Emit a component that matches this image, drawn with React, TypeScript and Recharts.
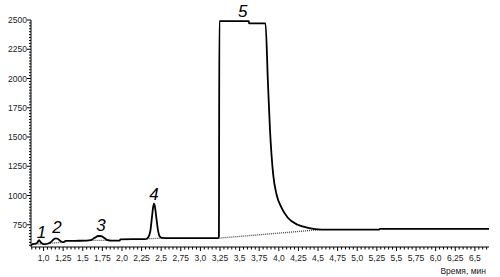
import { Line, LineChart, ReferenceDot, XAxis, YAxis } from "recharts";

// chromatogram trace: [time (min), signal]
const trace: [number, number][] = [
  [0.84, 572], [0.86, 584], [0.9, 588], [0.92, 598], [0.943, 618], [0.965, 600],
  [0.99, 586], [1.02, 584], [1.06, 590], [1.1, 606], [1.13, 626], [1.155, 634],
  [1.18, 630], [1.21, 614], [1.24, 602], [1.265, 604], [1.28, 612], [1.4, 613],
  [1.55, 614], [1.6, 618], [1.65, 638], [1.7, 654], [1.74, 652], [1.78, 634],
  [1.82, 618], [1.86, 614], [1.97, 614], [1.98, 626], [2.3, 628], [2.33, 638],
  [2.36, 690], [2.38, 800], [2.395, 890], [2.408, 931], [2.42, 905], [2.44, 800],
  [2.46, 700], [2.48, 652], [2.51, 638], [2.6, 636], [3.23, 636], [3.236, 650],
  [3.242, 2490], [3.618, 2490], [3.62, 2472], [3.83, 2472], [3.86, 1985],
  [3.888, 1554], [3.928, 1181], [3.971, 1009], [4.034, 897], [4.115, 810],
  [4.242, 750], [4.37, 724], [4.544, 709], [5.28, 709], [5.29, 715], [6.68, 715],
];

// dotted baselines under the peaks
const baselines: [number, number][][] = [
  [[0.9, 586], [0.99, 586]],
  [[1.06, 590], [1.24, 600]],
  [[1.6, 616], [1.84, 616]],
  [[2.315, 630], [2.51, 636]],
  [[3.242, 636], [4.544, 709]],
];

// peak numbers and where they sit
const peakLabels = ["1", "2", "3", "4", "5"];
const peakLabelTimes = [0.975, 1.172, 1.732, 2.408, 3.541];
const peakLabelValues = [692, 735, 752, 1017, 2573];

const xMajorTicks = [
  1.0, 1.25, 1.5, 1.75, 2.0, 2.25, 2.5, 2.75, 3.0, 3.25, 3.5, 3.75, 4.0, 4.25,
  4.5, 4.75, 5.0, 5.25, 5.5, 5.75, 6.0, 6.25, 6.5,
];
const yMajorTicks = [750, 1000, 1250, 1500, 1750, 2000, 2250, 2500];

const xTicks: number[] = [];
for (let i = 0; i <= 116; i++) xTicks.push((85 + 5 * i) / 100);
const yTicks: number[] = [];
for (let v = 575; v <= 2500; v += 25) yTicks.push(v);

const toRows = (pts: [number, number][]) => pts.map(([t, v]) => ({ t, v }));

const FONT = "'Liberation Sans', Arial, sans-serif";

const fmtTime = (v: number) => {
  const s = v.toFixed(2);
  return (s.endsWith("0") ? v.toFixed(1) : s).replace(".", ",");
};

const XTick = ({ x, y, payload }: any) => {
  const v = payload.value;
  const major = xMajorTicks.some((m) => Math.abs(m - v) < 1e-6);
  return (
    <g>
      <line x1={x} x2={x} y1={y} y2={y + (major ? 4 : 2.5)} stroke="#000" strokeWidth={1} />
      {major && (
        <text x={x} y={y + 14} textAnchor="middle" fontSize={8.5} fontFamily={FONT} fill="#222">
          {fmtTime(v)}
        </text>
      )}
    </g>
  );
};

const YTick = ({ x, y, payload }: any) => {
  const v = payload.value;
  const major = yMajorTicks.includes(v);
  return (
    <g>
      <line x1={x - (major ? 4 : 2)} x2={x} y1={y} y2={y} stroke="#000" strokeWidth={1} />
      {major && (
        <text x={x - 4} y={y + 3} textAnchor="end" fontSize={8.5} fontFamily={FONT} fill="#222">
          {v}
        </text>
      )}
    </g>
  );
};

export default function App() {
  return (
    <div style={{ position: "absolute", left: 0, top: 0, background: "#fff" }}>
      <LineChart
        width={500}
        height={277}
        data={toRows(trace)}
        margin={{ top: 20, right: 11, bottom: 0, left: 0 }}
      >
        <XAxis
          dataKey="t"
          type="number"
          domain={[0.84, 6.68]}
          ticks={xTicks}
          interval={0}
          tick={<XTick />}
          tickLine={false}
          tickSize={0}
          tickMargin={0}
          height={30}
          allowDataOverflow
          axisLine={{ stroke: "#000", strokeWidth: 1 }}
          label={{
            value: "Время, мин",
            position: "insideBottomRight",
            offset: 3,
            fontSize: 8.5,
            fontFamily: FONT,
            fill: "#222",
          }}
        />
        <YAxis
          dataKey="v"
          type="number"
          domain={[560, 2500]}
          ticks={yTicks}
          interval={0}
          tick={<YTick />}
          tickLine={false}
          tickSize={0}
          tickMargin={0}
          width={31}
          allowDataOverflow
          axisLine={{ stroke: "#000", strokeWidth: 1 }}
        />
        {baselines.map((b, i) => (
          <Line
            key={`base-${i}`}
            data={toRows(b)}
            dataKey="v"
            type="linear"
            stroke="#444"
            strokeWidth={1.3}
            strokeDasharray="1 1"
            dot={false}
            activeDot={false}
            isAnimationActive={false}
          />
        ))}
        <Line
          dataKey="v"
          type="monotone"
          stroke="#000"
          strokeWidth={1.8}
          dot={false}
          activeDot={false}
          isAnimationActive={false}
        />
        {peakLabels.map((text, i) => (
          <ReferenceDot
            key={`lbl-${text}`}
            x={peakLabelTimes[i]}
            y={peakLabelValues[i]}
            r={0}
            stroke="none"
            fill="none"
            ifOverflow="visible"
            label={{
              value: text,
              position: "center",
              fontSize: 17,
              fontStyle: "italic",
              fontFamily: FONT,
              fill: "#000",
            }}
          />
        ))}
      </LineChart>
    </div>
  );
}
